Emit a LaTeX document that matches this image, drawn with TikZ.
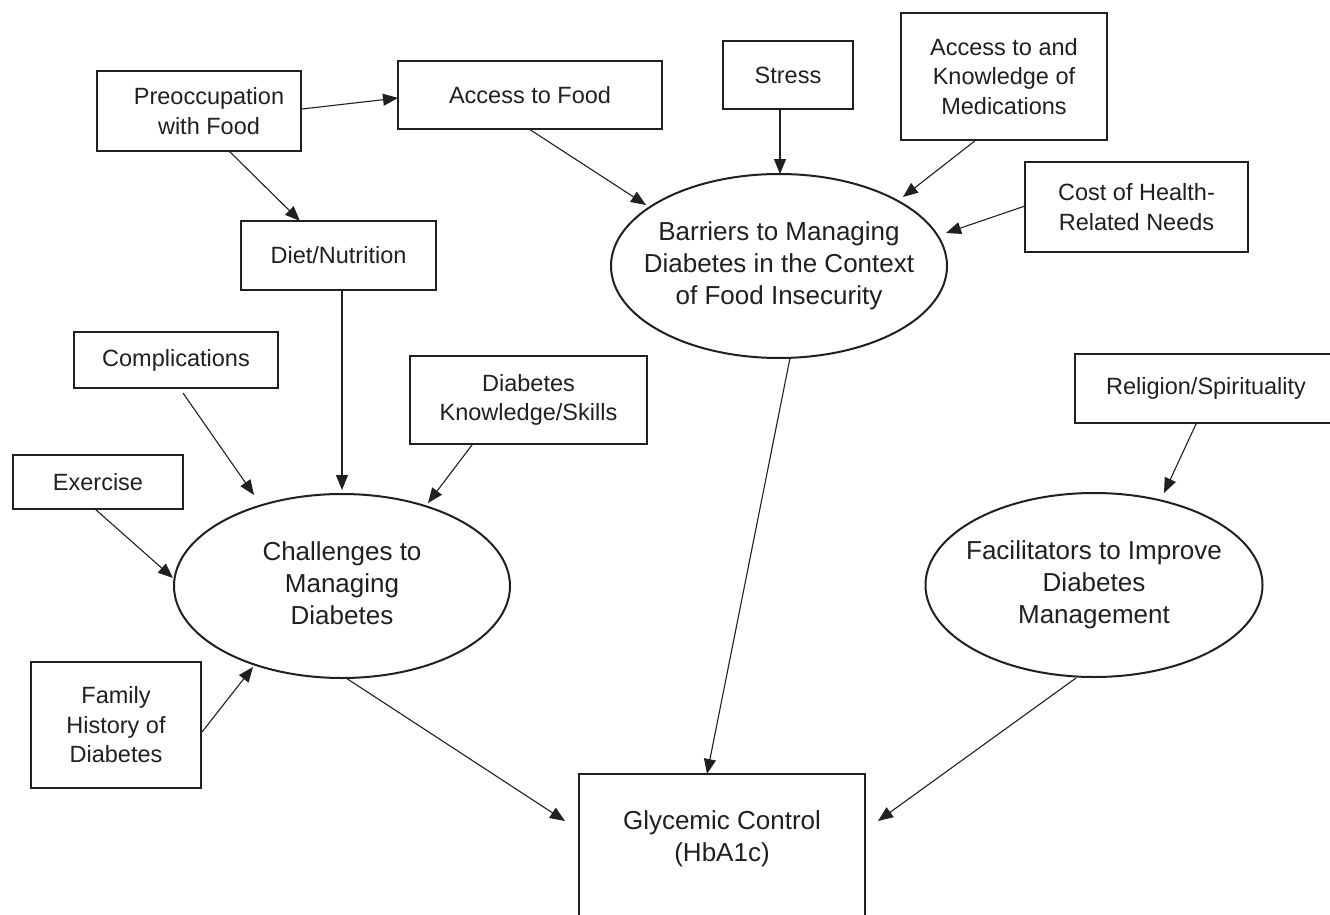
\documentclass[tikz,border=0pt]{standalone}
\usepackage{fontspec}
\setmainfont{Liberation Sans}
\usetikzlibrary{arrows.meta,calc,shapes.geometric}
\definecolor{ink}{RGB}{35,31,32}
\begin{document}
\begin{tikzpicture}[x=1pt,y=-1pt,
  box/.style={draw=ink, line width=2pt, rectangle, inner sep=0pt, align=center, text=ink,
    font=\fontsize{23.5pt}{29.5pt}\selectfont},
  oval/.style={draw=ink, line width=2pt, ellipse, inner sep=0pt, minimum width=336pt,
    minimum height=184pt, text=ink, font=\fontsize{26pt}{32pt}\selectfont},
  arr/.style={draw=ink, line width=1.1pt, -{Triangle[length=15pt,width=12pt]}}]
\useasboundingbox (0,0) rectangle (1330,915);
\clip (0,0) rectangle (1330,915);
\fill[white] (0,0) rectangle (1330,915);

% boxes
\node[box, minimum width=204pt, minimum height=80pt] (preocc) at (199,111) {\hspace*{20pt}Preoccupation\\\hspace*{20pt}with Food};
\node[box, minimum width=264pt, minimum height=68pt] (access) at (530,95) {Access to Food};
\node[box, minimum width=130pt, minimum height=68pt] (stress) at (788,75) {Stress};
\node[box, minimum width=206pt, minimum height=127pt] (meds) at (1004,76.5) {Access to and\\Knowledge of\\Medications};
\node[box, minimum width=223pt, minimum height=90pt] (cost) at (1136.5,207) {Cost of Health-\\Related Needs};
\node[box, minimum width=195pt, minimum height=69pt] (diet) at (338.5,255.5) {Diet/Nutrition};
\node[box, minimum width=204pt, minimum height=56pt] (compl) at (176,360) {Complications};
\node[box, minimum width=237pt, minimum height=88pt] (know) at (528.5,400) {Diabetes\\Knowledge/Skills};
\node[box, minimum width=262pt, minimum height=69pt] (relig) at (1206,388.5) {Religion/Spirituality};
\node[box, minimum width=170pt, minimum height=54pt] (exer) at (98,482) {Exercise};
\node[box, minimum width=170pt, minimum height=126pt] (family) at (116,725) {Family\\History of\\Diabetes};

% ellipses
\node[oval] (barriers) at (779,266) {\makebox[0pt]{\begin{tabular}{@{}c@{}}Barriers to Managing\\Diabetes in the Context\\of Food Insecurity\end{tabular}}};
\node[oval] (chall) at (342,586) {\makebox[0pt]{\begin{tabular}{@{}c@{}}Challenges to\\Managing\\Diabetes\end{tabular}}};
\node[oval, minimum width=337pt] (facil) at (1094,585) {\makebox[0pt]{\begin{tabular}{@{}c@{}}Facilitators to Improve\\Diabetes\\Management\end{tabular}}};

% outcome
\node[draw=ink, line width=2pt, rectangle, inner sep=0pt, minimum width=286pt, minimum height=170pt, anchor=north] (glyc) at (722,773) {};
\node[text=ink, align=center, font=\fontsize{26pt}{32pt}\selectfont] (glyctext) at (722,839) {Glycemic Control\\(HbA1c)};

% connectors
\draw[arr] ($(preocc)+(103,-2)$) -- ($(access)+(-132,3)$);
\draw[arr] ($(preocc)+(30,40)$) -- ($(diet)+(-38.5,-34.5)$);
\draw[arr] ($(access)+(-1,34)$) -- ($(barriers)+(-133,-61)$);
\draw[arr] ($(stress)+(-8,34)$) -- ($(barriers)+(1,-92)$);
\draw[arr] ($(meds)+(-28,63.5)$) -- ($(barriers)+(124,-69)$);
\draw[arr] ($(cost)+(-111.5,-1)$) -- ($(barriers)+(167,-33)$);
\draw[arr] ($(diet)+(3.5,34.5)$) -- ($(chall)+(0,-96)$);
\draw[arr] ($(compl)+(7,33)$) -- ($(chall)+(-88,-91)$);
\draw[arr] ($(know)+(-56.5,45)$) -- ($(chall)+(86,-83)$);
\draw[arr] ($(exer)+(-3,27)$) -- ($(chall)+(-169,-8)$);
\draw[arr] ($(family)+(86,7)$) -- ($(chall)+(-89,81)$);
\draw[arr] ($(chall)+(4,92)$) -- ($(glyc)+(-157,-38)$);
\draw[arr] ($(barriers)+(11,92)$) -- ($(glyc)+(-15,-85)$);
\draw[arr] ($(relig)+(-10,35.5)$) -- ($(facil)+(70,-92)$);
\draw[arr] ($(facil)+(-18,93)$) -- ($(glyc)+(156,-38)$);
\end{tikzpicture}
\end{document}
